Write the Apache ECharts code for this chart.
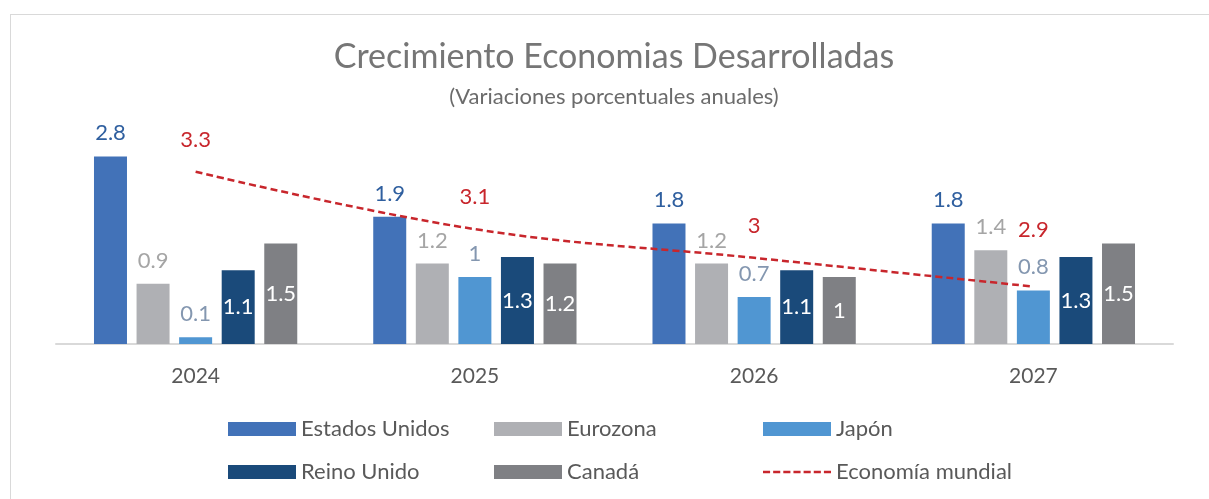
<!DOCTYPE html>
<html>
<head>
<meta charset="utf-8">
<script src="https://cdn.jsdelivr.net/npm/echarts@6/dist/echarts.min.js"></script>
<style>
  html, body { margin: 0; padding: 0; background: #fff; overflow: hidden; }
  .frame {
    position: absolute; left: 10px; top: 14px;
    width: 1206px; height: 490px;
    border: 1px solid #d9d9d9;
  }
  #chart { width: 1206px; height: 490px; }
</style>
</head>
<body>
<div class="frame"><div id="chart"></div></div>
<script>
// categorías (años)
const years = ["2024", "2025", "2026", "2027"];
// series de barras
const estadosUnidos = [2.8, 1.9, 1.8, 1.8];
const eurozona = [0.9, 1.2, 1.2, 1.4];
const japon = [0.1, 1.0, 0.7, 0.8];
const reinoUnido = [1.1, 1.3, 1.1, 1.3];
const canada = [1.5, 1.2, 1.0, 1.5];
// línea (eje secundario)
const economiaMundial = [3.3, 3.1, 3.0, 2.9];

const FONT = "Lato";

// icono de leyenda: línea discontinua
const DASH_ICON =
  "path://M0,0h7v2.5h-7z M10,0h7v2.5h-7z M20,0h7v2.5h-7z M30,0h7v2.5h-7z " +
  "M40,0h7v2.5h-7z M50,0h7v2.5h-7z M60,0h7v2.5h-7z";

const chart = echarts.init(document.getElementById("chart"));

// etiqueta encima de la barra
const topLabel = (color) => ({
  show: true,
  position: "top",
  distance: 12,
  color: color,
  fontSize: 22,
  fontFamily: FONT,
});

// etiqueta blanca dentro de la barra
const insideLabel = {
  show: true,
  position: "inside",
  color: "#ffffff",
  fontSize: 22,
  fontFamily: FONT,
};

const barSeries = (name, data, color, label) => ({
  name: name,
  type: "bar",
  data: data,
  barWidth: 33,
  barGap: "29%",
  itemStyle: { color: color },
  label: label,
  emphasis: { disabled: true },
});

const legendBase = {
  orient: "vertical",
  top: 401,
  padding: 0,
  itemWidth: 68,
  itemHeight: 14,
  itemGap: 17,
  icon: "rect",
  symbolKeepAspect: true,
  textStyle: { color: "#595959", fontSize: 22, lineHeight: 26, fontFamily: FONT },
  selectedMode: false,
};

const option = {
  animation: false,
  title: [
    {
      text: "Crecimiento Economias Desarrolladas",
      left: "center",
      top: 25,
      padding: 0,
      textStyle: { color: "#767676", fontSize: 34, fontWeight: "normal", fontFamily: FONT },
    },
    {
      text: "(Variaciones porcentuales anuales)",
      left: "center",
      top: 71,
      padding: 0,
      textStyle: { color: "#6b6b6b", fontSize: 22, fontWeight: "normal", fontFamily: FONT },
    },
  ],
  legend: [
    Object.assign({}, legendBase, { left: 217, data: ["Estados Unidos", "Reino Unido"] }),
    Object.assign({}, legendBase, { left: 483, data: ["Eurozona", "Canadá"] }),
    Object.assign({}, legendBase, {
      left: 752,
      data: ["Japón", { name: "Economía mundial", icon: DASH_ICON }],
    }),
  ],
  grid: { left: 45, right: 44, top: 128, bottom: 161 },
  xAxis: {
    type: "category",
    data: years,
    axisTick: { show: false },
    axisLine: { lineStyle: { color: "#d9d9d9", width: 2 } },
    axisLabel: { color: "#595959", fontSize: 21, fontFamily: FONT, margin: 22 },
  },
  yAxis: [
    { type: "value", min: 0, max: 3, show: false },
    { type: "value", min: 2.7, max: 3.4, show: false },
  ],
  series: [
    barSeries("Estados Unidos", estadosUnidos, "#4272b8", topLabel("#2f5f9f")),
    barSeries("Eurozona", eurozona, "#afb0b4", topLabel("#a5a5a5")),
    barSeries("Japón", japon, "#5096d2", topLabel("#8497b0")),
    barSeries("Reino Unido", reinoUnido, "#1a4a7a", insideLabel),
    barSeries("Canadá", canada, "#7f8084", insideLabel),
    {
      name: "Economía mundial",
      type: "line",
      yAxisIndex: 1,
      data: economiaMundial.map((v, i) =>
        i === economiaMundial.length - 1 ? { value: v, label: { distance: 46 } } : v
      ),
      smooth: 0.4,
      symbol: "circle",
      symbolSize: 0.1,
      showSymbol: true,
      itemStyle: { color: "#c8262c" },
      lineStyle: { color: "#c8262c", width: 2.5, type: [7, 4] },
      label: {
        show: true,
        position: "top",
        distance: 21,
        color: "#c8262c",
        fontSize: 22,
        fontFamily: FONT,
      },
      emphasis: { disabled: true },
    },
  ],
};

chart.setOption(option);
</script>
</body>
</html>
